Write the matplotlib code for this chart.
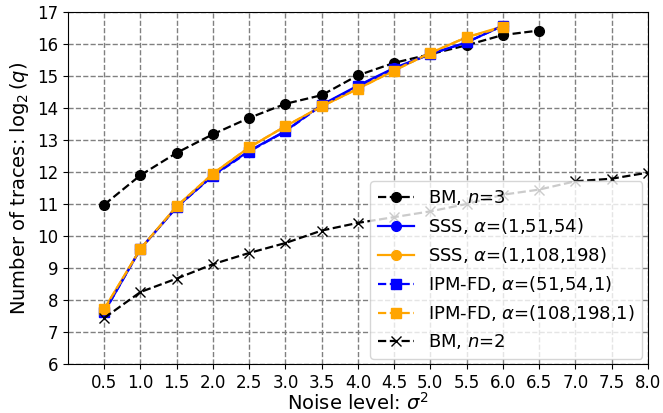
import matplotlib.pyplot as plt
import numpy as np

# noise levels
x_bm3 = [0.5, 1.0, 1.5, 2.0, 2.5, 3.0, 3.5, 4.0, 4.5, 5.0, 5.5, 6.0, 6.5]
bm3 = [10.98, 11.9, 12.6, 13.18, 13.69, 14.13, 14.4, 15.02, 15.41, 15.68, 15.96, 16.28, 16.42]

x_sss = [0.5, 1.0, 1.5, 2.0, 2.5, 3.0, 3.5, 4.0, 4.5, 5.0, 5.5, 6.0]
sss_blue = [7.62, 9.6, 10.9, 11.9, 12.66, 13.28, 14.1, 14.7, 15.25, 15.69, 16.05, 16.57]
sss_orange = [7.72, 9.6, 10.93, 11.95, 12.77, 13.43, 14.05, 14.6, 15.17, 15.72, 16.21, 16.55]
ipm_blue = [7.62, 9.6, 10.9, 11.88, 12.64, 13.27, 14.08, 14.68, 15.23, 15.68, 16.05, 16.57]
ipm_orange = [7.72, 9.6, 10.93, 11.95, 12.77, 13.43, 14.05, 14.6, 15.17, 15.72, 16.21, 16.52]

x_bm2 = [0.5, 1.0, 1.5, 2.0, 2.5, 3.0, 3.5, 4.0, 4.5, 5.0, 5.5, 6.0, 6.5, 7.0, 7.5, 8.0]
bm2 = [7.44, 8.25, 8.67, 9.12, 9.47, 9.78, 10.17, 10.41, 10.59, 10.77, 11.0, 11.29, 11.45, 11.71, 11.79, 11.98]

fig = plt.figure(figsize=(6.63, 4.13), dpi=100)
ax = fig.add_axes([0.1026, 0.1186, 0.8744, 0.8524])

ax.plot(x_bm3, bm3, 'k--', marker='o', markersize=7, lw=1.6, label='BM, $n$=3')
ax.plot(x_sss, sss_blue, '-', color='blue', marker='o', markersize=7, lw=1.6,
        label=r'SSS, $\alpha$=(1,51,54)')
ax.plot(x_sss, sss_orange, '-', color='orange', marker='o', markersize=7, lw=1.6,
        label=r'SSS, $\alpha$=(1,108,198)')
ax.plot(x_sss, ipm_blue, '--', color='blue', marker='s', markersize=7, lw=1.6,
        label=r'IPM-FD, $\alpha$=(51,54,1)')
ax.plot(x_sss, ipm_orange, '--', color='orange', marker='s', markersize=7, lw=1.6,
        label=r'IPM-FD, $\alpha$=(108,198,1)')
ax.plot(x_bm2, bm2, 'k--', marker='x', markersize=7, lw=1.6, label='BM, $n$=2')

ax.set_xlim(0, 8)
ax.set_ylim(6, 17)
ax.set_xticks(np.arange(0.5, 8.01, 0.5))
ax.set_yticks(np.arange(6, 18, 1))
ax.tick_params(labelsize=12)
ax.grid(True, linestyle='--', color='grey', lw=1)
ax.set_axisbelow(True)
ax.set_xlabel('Noise level: $\\sigma^2$', fontsize=14, labelpad=0)
ax.set_ylabel('Number of traces: $\\log_2(q)$', fontsize=14)
ax.legend(loc='lower right', fontsize=13, handlelength=2, borderaxespad=0.3)

fig.savefig('out.png', dpi=100)
